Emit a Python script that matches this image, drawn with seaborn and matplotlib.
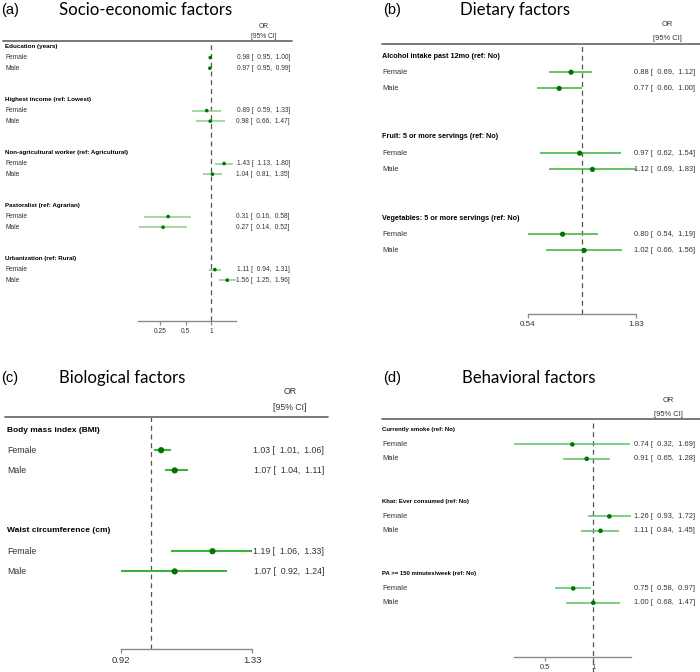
import numpy as np
import pandas as pd
import matplotlib
matplotlib.use("Agg")
import matplotlib.pyplot as plt
from matplotlib import transforms
from matplotlib.lines import Line2D
import seaborn as sns

# ---- data ----
soc_groups = ["Education (years)", "Highest income (ref: Lowest)",
              "Non-agricultural worker (ref: Agricultural)",
              "Pastoralist (ref: Agrarian)", "Urbanization (ref: Rural)"]
soc_or_f = [0.98, 0.89, 1.43, 0.31, 1.11]
soc_lo_f = [0.95, 0.59, 1.13, 0.16, 0.94]
soc_hi_f = [1.00, 1.33, 1.80, 0.58, 1.31]
soc_or_m = [0.97, 0.98, 1.04, 0.27, 1.56]
soc_lo_m = [0.95, 0.66, 0.81, 0.14, 1.25]
soc_hi_m = [0.99, 1.47, 1.35, 0.52, 1.96]

diet_groups = ["Alcohol intake past 12mo (ref: No)",
               "Fruit: 5 or more servings (ref: No)",
               "Vegetables: 5 or more servings (ref: No)"]
diet_or_f = [0.88, 0.97, 0.80]
diet_lo_f = [0.69, 0.62, 0.54]
diet_hi_f = [1.12, 1.54, 1.19]
diet_or_m = [0.77, 1.12, 1.02]
diet_lo_m = [0.60, 0.69, 0.66]
diet_hi_m = [1.00, 1.83, 1.56]

bio_groups = ["Body mass index (BMI)", "Waist circumference (cm)"]
bio_or_f = [1.03, 1.19]
bio_lo_f = [1.01, 1.06]
bio_hi_f = [1.06, 1.33]
bio_or_m = [1.07, 1.07]
bio_lo_m = [1.04, 0.92]
bio_hi_m = [1.11, 1.24]

beh_groups = ["Currently smoke (ref: No)", "Khat: Ever consumed (ref: No)",
              "PA >= 150 minutes/week (ref: No)"]
beh_or_f = [0.74, 1.26, 0.75]
beh_lo_f = [0.32, 0.93, 0.58]
beh_hi_f = [1.69, 1.72, 0.97]
beh_or_m = [0.91, 1.11, 1.00]
beh_lo_m = [0.65, 0.84, 0.68]
beh_hi_m = [1.28, 1.45, 1.47]

sex_labels = ["Female", "Male"]

# ---- style ----
W, H = 700, 672
sns.set_theme(style="white")
plt.rcParams["font.family"] = ["Liberation Sans", "DejaVu Sans"]

fig = plt.figure(figsize=(W / 100, H / 100), dpi=100)


def fx(x):
    return x / W


def fy(y):
    return 1 - y / H


def panel(tag, title, groups, f_or, f_lo, f_hi, m_or, m_lo, m_hi, lay):
    ax = fig.add_axes([fx(lay["ax_l"]), fy(lay["axis_y"]),
                       (lay["ax_r"] - lay["ax_l"]) / W,
                       (lay["axis_y"] - lay["rule_y"]) / H])
    ax.patch.set_alpha(0)
    ax.set_xscale("log")

    # long table: 5 rows per group (header, Female, Male, 2 blank)
    recs = []
    for g, name in enumerate(groups):
        for k, (o, lo, hi) in enumerate([(f_or[g], f_lo[g], f_hi[g]),
                                          (m_or[g], m_lo[g], m_hi[g])]):
            recs.append({"group": name, "sex": sex_labels[k], "row": 5 * g + k + 1,
                         "or": o, "lo": lo, "hi": hi})
    df = pd.DataFrame(recs)

    ax.hlines(df["row"], df["lo"], df["hi"], color=lay["ci"], lw=lay["lw"], zorder=2)
    sns.scatterplot(data=df, x="or", y="row", ax=ax, color="#007300",
                    s=lay["s"], edgecolor="none", legend=False, zorder=3)
    ax.axvline(1, ymin=lay.get("dash_lo", 0), ymax=1, color="#555555",
               ls=(0, (4, 3)), lw=0.9, clip_on=False, zorder=1)

    ax.set_xlim(lay["xlim"])
    ax.set_ylim((lay["axis_y"] - lay["h0"]) / lay["step"],
                (lay["rule_y"] - lay["h0"]) / lay["step"])
    ax.minorticks_off()
    ax.set_xticks(lay["ticks"])
    ax.set_xticklabels(lay["ticklabels"])
    ax.set_yticks([])
    ax.set_xlabel("")
    ax.set_ylabel("")
    for sp in ["top", "right", "left"]:
        ax.spines[sp].set_visible(False)
    ax.spines["bottom"].set_color("#8a8a8a")
    ax.spines["bottom"].set_linewidth(1.0)
    ax.tick_params(axis="x", direction="out", length=3, width=0.9, color="#8a8a8a",
                   pad=2, labelsize=lay["tfs"], labelcolor="#333333", bottom=True)

    trans = transforms.blended_transform_factory(fig.transFigure, ax.transData)
    fs = lay["fs"]
    for g, name in enumerate(groups):
        ax.text(fx(lay["lab_x"]), 5 * g, name, transform=trans, fontsize=lay["hfs"],
                fontweight="bold", color="black", va="center", ha="left")
    for _, r in df.iterrows():
        ax.text(fx(lay["lab_x"]), r["row"], r["sex"], transform=trans, fontsize=fs,
                color="#333333", va="center", ha="left")
        ax.text(fx(lay["or_x"]), r["row"],
                f"{r['or']:.2f} [  {r['lo']:.2f},  {r['hi']:.2f}]",
                transform=trans, fontsize=fs, color="#333333", va="center", ha="right")

    # header and rule
    fig.text(fx(lay["hd_x"]), fy(lay["hd_y1"]), "OR", fontsize=fs, color="#333333",
             ha="center", va="center")
    fig.text(fx(lay["hd_x"]), fy(lay["hd_y2"]), "[95% CI]", fontsize=fs,
             color="#333333", ha="center", va="center")
    fig.add_artist(Line2D([fx(lay["rule_x"][0]), fx(lay["rule_x"][1])],
                          [fy(lay["rule_y"]), fy(lay["rule_y"])],
                          transform=fig.transFigure, color="#6e6e6e", lw=1.3))

    # titles
    fig.text(fx(lay["tag_x"]), fy(lay["title_y"]), tag, fontsize=10.5,
             color="black", ha="left", va="center")
    fig.text(fx(lay["title_x"]), fy(lay["title_y"]), title, fontsize=12.1,
             family=["Lato", "DejaVu Sans"], color="black", ha="left", va="center")


panel("(a)", "Socio-economic factors", soc_groups,
      soc_or_f, soc_lo_f, soc_hi_f, soc_or_m, soc_lo_m, soc_hi_m,
      dict(ax_l=138, ax_r=236, rule_y=41, axis_y=321, h0=47, step=10.6,
           xlim=(0.136, 1.98), ticks=[0.25, 0.5, 1], ticklabels=["0.25", "0.5", "1"],
           lab_x=5, or_x=290, hd_x=264, hd_y1=27, hd_y2=36, rule_x=(3, 292),
           tag_x=1, title_x=59, title_y=10, fs=4.8, hfs=4.5, tfs=4.8,
           ci="#86d086", lw=1.1, s=7))

panel("(b)", "Dietary factors", diet_groups,
      diet_or_f, diet_lo_f, diet_hi_f, diet_or_m, diet_lo_m, diet_hi_m,
      dict(ax_l=527.7, ax_r=636, rule_y=44, axis_y=314, h0=56, step=16.2,
           xlim=(0.54, 1.83), ticks=[0.54, 1.83], ticklabels=["0.54", "1.83"],
           lab_x=382, or_x=695, hd_x=667, hd_y1=25, hd_y2=38, rule_x=(382, 700),
           tag_x=383, title_x=460, title_y=10, fs=5.4, hfs=5.2, tfs=5.8,
           ci="#4cb84c", lw=1.2, s=14))

panel("(c)", "Biological factors", bio_groups,
      bio_or_f, bio_lo_f, bio_hi_f, bio_or_m, bio_lo_m, bio_hi_m,
      dict(ax_l=121, ax_r=252, rule_y=417, axis_y=649, h0=430, step=20.2,
           xlim=(0.92, 1.33), ticks=[0.92, 1.33], ticklabels=["0.92", "1.33"],
           lab_x=7, or_x=324, hd_x=290, hd_y1=391, hd_y2=408, rule_x=(5, 328),
           tag_x=1, title_x=59, title_y=378, fs=6.3, hfs=6.0, tfs=6.8,
           ci="#3cb43c", lw=1.5, s=20))

panel("(d)", "Behavioral factors", beh_groups,
      beh_or_f, beh_lo_f, beh_hi_f, beh_or_m, beh_lo_m, beh_hi_m,
      dict(ax_l=514, ax_r=631, rule_y=419, axis_y=657, h0=430, step=14.4,
           xlim=(0.32, 1.72), ticks=[0.5, 1], ticklabels=["0.5", "1"],
           lab_x=382, or_x=695, hd_x=668, hd_y1=401, hd_y2=414, rule_x=(382, 700),
           tag_x=383, title_x=462, title_y=378, fs=5.4, hfs=4.3, tfs=5.3,
           ci="#5cc05c", lw=1.1, s=11, dash_lo=-0.07))

fig.savefig("out.png", dpi=100)
